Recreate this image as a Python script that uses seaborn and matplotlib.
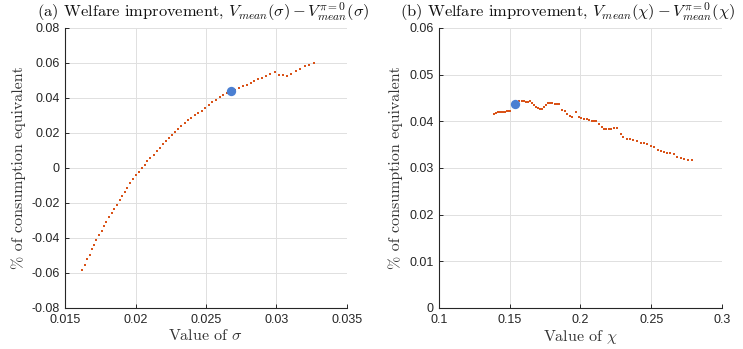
import numpy as np
import pandas as pd
import seaborn as sns
import matplotlib
matplotlib.use("Agg")
import matplotlib.pyplot as plt

# ---------------- data ----------------
sigma = [0.01624, 0.01640, 0.01657, 0.01674, 0.01690, 0.01707, 0.01723, 0.01743,
         0.01759, 0.01778, 0.01794, 0.01813, 0.01832, 0.01849, 0.01867, 0.01887,
         0.01906, 0.01924, 0.01943, 0.01962, 0.01981, 0.02002, 0.02023, 0.02045,
         0.02066, 0.02085, 0.02104, 0.02128, 0.02149, 0.02172, 0.02194, 0.02215,
         0.02236, 0.02257, 0.02282, 0.02303, 0.02326, 0.02350, 0.02374, 0.02397,
         0.02421, 0.02445, 0.02471, 0.02494, 0.02520, 0.02546, 0.02572, 0.02596,
         0.02619, 0.02650, 0.02674, 0.02708, 0.02735, 0.02761, 0.02788, 0.02816,
         0.02843, 0.02869, 0.02897, 0.02924, 0.02952, 0.02986, 0.03019, 0.03047,
         0.03077, 0.03106, 0.03138, 0.03170, 0.03204, 0.03234, 0.03266]
welfare_sigma = [-0.05811, -0.05526, -0.05183, -0.04954, -0.04646, -0.04400, -0.04131, -0.03846,
                 -0.03583, -0.03331, -0.03069, -0.02817, -0.02571, -0.02343, -0.02097, -0.01829,
                 -0.01583, -0.01354, -0.01126, -0.00874, -0.00646, -0.00417, -0.00211, -0.00017,
                 0.00189, 0.00383, 0.00589, 0.00760, 0.00954, 0.01143, 0.01354, 0.01526,
                 0.01697, 0.01869, 0.02057, 0.02229, 0.02400, 0.02554, 0.02726, 0.02874,
                 0.03011, 0.03126, 0.03274, 0.03411, 0.03583, 0.03754, 0.03903, 0.04040,
                 0.04143, 0.04286, 0.04371, 0.04457, 0.04543, 0.04657, 0.04760, 0.04846,
                 0.04960, 0.05069, 0.05160, 0.05246, 0.05343, 0.05457, 0.05326, 0.05326,
                 0.05240, 0.05371, 0.05554, 0.05669, 0.05829, 0.05903, 0.06011]
sigma_opt = [0.02677]
welfare_sigma_opt = [0.04400]

chi = [0.13887, 0.14028, 0.14170, 0.14311, 0.14431, 0.14572, 0.14685, 0.14806, 0.14926, 0.15053,
       0.15689, 0.15844, 0.15993, 0.16134, 0.16276, 0.16431, 0.16572, 0.16728, 0.16869, 0.17017,
       0.17159, 0.17279, 0.17420, 0.17576, 0.17724, 0.17866, 0.18021, 0.18177, 0.18318, 0.18480,
       0.18728, 0.18904, 0.19067, 0.19258, 0.19434, 0.19703, 0.19894, 0.20071, 0.20247, 0.20445,
       0.20636, 0.20813, 0.20975, 0.21131, 0.21321, 0.21498, 0.21661, 0.21837, 0.22000, 0.22169,
       0.22402, 0.22615, 0.22862, 0.23039, 0.23286, 0.23519, 0.23731, 0.23993, 0.24254, 0.24487,
       0.24699, 0.24961, 0.25215, 0.25456, 0.25710, 0.25922, 0.26113, 0.26325, 0.26586, 0.26819,
       0.27081, 0.27335, 0.27597, 0.27858]
welfare_chi = [0.04164, 0.04186, 0.04190, 0.04190, 0.04190, 0.04190, 0.04192, 0.04213, 0.04224, 0.04222,
               0.04428, 0.04443, 0.04436, 0.04410, 0.04415, 0.04432, 0.04385, 0.04346, 0.04310, 0.04286,
               0.04261, 0.04256, 0.04308, 0.04357, 0.04400, 0.04396, 0.04385, 0.04372, 0.04361, 0.04368,
               0.04246, 0.04213, 0.04164, 0.04111, 0.04089, 0.04196, 0.04100, 0.04079, 0.04046, 0.04046,
               0.04019, 0.04014, 0.04014, 0.04014, 0.03935, 0.03880, 0.03843, 0.03826, 0.03826, 0.03826,
               0.03849, 0.03847, 0.03732, 0.03672, 0.03621, 0.03612, 0.03604, 0.03568, 0.03533, 0.03526,
               0.03518, 0.03462, 0.03441, 0.03389, 0.03361, 0.03340, 0.03325, 0.03312, 0.03297, 0.03239,
               0.03205, 0.03186, 0.03169, 0.03164]
chi_opt = [0.1537]
welfare_chi_opt = [0.04365]

sigma_ticks = [0.015, 0.02, 0.025, 0.03, 0.035]
sigma_ticklabels = ["0.015", "0.02", "0.025", "0.03", "0.035"]
ws_ticks = [-0.08, -0.06, -0.04, -0.02, 0, 0.02, 0.04, 0.06, 0.08]
ws_ticklabels = ["-0.08", "-0.06", "-0.04", "-0.02", "0", "0.02", "0.04", "0.06", "0.08"]
chi_ticks = [0.1, 0.15, 0.2, 0.25, 0.3]
chi_ticklabels = ["0.1", "0.15", "0.2", "0.25", "0.3"]
wc_ticks = [0, 0.01, 0.02, 0.03, 0.04, 0.05, 0.06]
wc_ticklabels = ["0", "0.01", "0.02", "0.03", "0.04", "0.05", "0.06"]

# ---------------- style ----------------
sns.set_theme(style="white")
plt.rcParams["font.family"] = ["Liberation Sans", "DejaVu Sans"]
plt.rcParams["mathtext.fontset"] = "cm"
plt.rcParams["axes.unicode_minus"] = False

ORANGE = "#D95319"
BLUE = "#4a7fd2"
AXC = "#262626"

fig = plt.figure(figsize=(7.43, 3.49), dpi=100)
axL = fig.add_axes([0.0875, 0.1175, 0.3795, 0.8023])
axR = fig.add_axes([0.5908, 0.1175, 0.3809, 0.8023])

dfL = pd.DataFrame({"x": sigma, "y": welfare_sigma})
dfLo = pd.DataFrame({"x": sigma_opt, "y": welfare_sigma_opt})
dfR = pd.DataFrame({"x": chi, "y": welfare_chi})
dfRo = pd.DataFrame({"x": chi_opt, "y": welfare_chi_opt})

serif = {"family": "cmr10"}

def style(ax, xt, xtl, yt, ytl, xlim, ylim, title, xlabel, title_x):
    ax.set_xlim(*xlim)
    ax.set_ylim(*ylim)
    ax.set_xticks(xt)
    ax.set_xticklabels(xtl)
    ax.set_yticks(yt)
    ax.set_yticklabels(ytl)
    ax.grid(True, color="#e0e0e0", linewidth=0.7)
    ax.set_axisbelow(True)
    for s in ["top", "right"]:
        ax.spines[s].set_visible(False)
    for s in ["left", "bottom"]:
        ax.spines[s].set_color(AXC)
        ax.spines[s].set_linewidth(0.8)
    ax.tick_params(axis="both", direction="in", length=3, width=0.7,
                   colors=AXC, labelsize=9, left=True, bottom=True, pad=4)
    ax.set_title(title, fontsize=11.8, fontdict=serif, pad=8, color="#111111",
                 x=title_x)
    ax.set_xlabel(xlabel, fontsize=11.5, fontdict=serif, color="#333333", labelpad=2)
    ax.set_ylabel("% of consumption equivalent", fontsize=11.5, fontdict=serif,
                  color="#333333", labelpad=4)

sns.scatterplot(data=dfL, x="x", y="y", ax=axL, color=ORANGE, s=3, marker="s",
                linewidth=0, legend=False)
sns.scatterplot(data=dfLo, x="x", y="y", ax=axL, color=BLUE, s=45, linewidth=0,
                legend=False, zorder=5)
sns.scatterplot(data=dfR, x="x", y="y", ax=axR, color=ORANGE, s=3, marker="s",
                linewidth=0, legend=False)
sns.scatterplot(data=dfRo, x="x", y="y", ax=axR, color=BLUE, s=45, linewidth=0,
                legend=False, zorder=5)

style(axL, sigma_ticks, sigma_ticklabels, ws_ticks, ws_ticklabels,
      (0.015, 0.035), (-0.08, 0.08),
      r"(a) Welfare improvement, $V_{mean}(\sigma) - V^{\pi=0}_{mean}(\sigma)$",
      r"Value of $\sigma$", 0.49)
style(axR, chi_ticks, chi_ticklabels, wc_ticks, wc_ticklabels,
      (0.1, 0.3), (0, 0.06),
      r"(b) Welfare improvement, $V_{mean}(\chi) - V^{\pi=0}_{mean}(\chi)$",
      r"Value of $\chi$", 0.455)

fig.savefig("out.png", dpi=100)
